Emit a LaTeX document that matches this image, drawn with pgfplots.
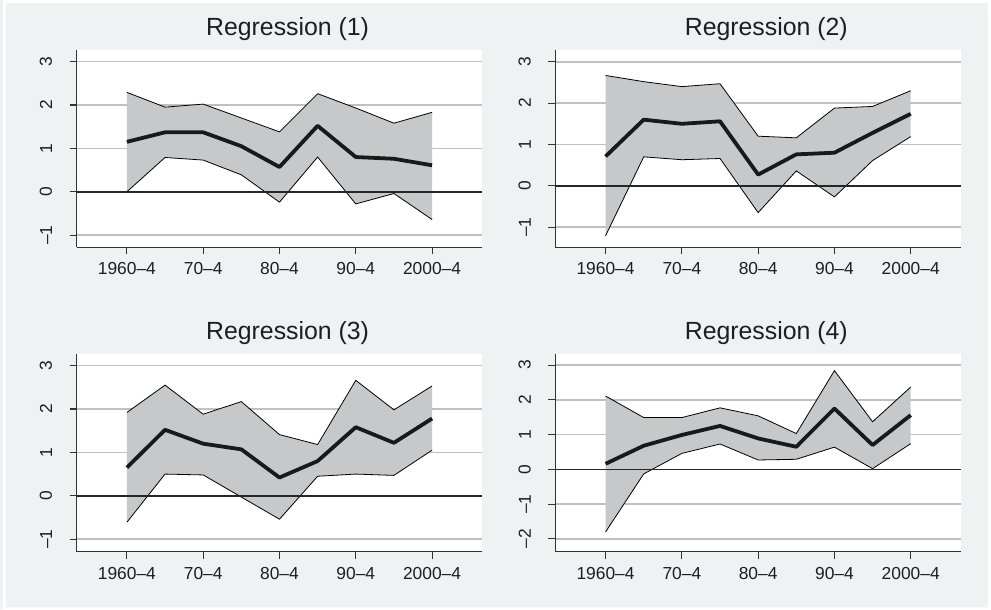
\documentclass[border=0pt]{standalone}
\usepackage{fontspec}
\setmainfont{Liberation Sans}
\usepackage{pgfplots}
\usepackage{pgfplotstable}
\pgfplotsset{compat=1.18}
\usepgfplotslibrary{fillbetween}
\definecolor{bgc}{RGB}{238,242,242}
\definecolor{cifill}{RGB}{199,200,202}
\definecolor{gridc}{RGB}{192,192,196}
\definecolor{axc}{RGB}{50,50,50}
\definecolor{txt}{RGB}{30,30,30}

\pgfplotstableread{
x b lo hi
1960 1.15 0.00 2.29
1965 1.37 0.79 1.95
1970 1.37 0.73 2.02
1975 1.05 0.39 1.70
1980 0.57 -0.24 1.38
1985 1.52 0.80 2.26
1990 0.80 -0.28 1.93
1995 0.76 -0.04 1.58
2000 0.61 -0.64 1.83
}\tA
\pgfplotstableread{
x b lo hi
1960 0.71 -1.21 2.67
1965 1.60 0.70 2.52
1970 1.50 0.63 2.40
1975 1.56 0.66 2.47
1980 0.27 -0.65 1.20
1985 0.76 0.36 1.16
1990 0.80 -0.27 1.88
1995 1.28 0.61 1.92
2000 1.74 1.19 2.30
}\tB
\pgfplotstableread{
x b lo hi
1960 0.65 -0.61 1.92
1965 1.52 0.50 2.55
1970 1.20 0.48 1.88
1975 1.07 -0.03 2.17
1980 0.42 -0.54 1.41
1985 0.80 0.45 1.18
1990 1.58 0.50 2.66
1995 1.22 0.47 1.98
2000 1.78 1.05 2.53
}\tC
\pgfplotstableread{
x b lo hi
1960 0.16 -1.80 2.11
1965 0.68 -0.13 1.49
1970 0.99 0.46 1.49
1975 1.25 0.73 1.77
1980 0.89 0.27 1.54
1985 0.65 0.29 1.03
1990 1.75 0.64 2.84
1995 0.70 0.02 1.37
2000 1.56 0.74 2.37
}\tD

\pgfplotsset{
  panel/.style={
    scale only axis, width=407bp, height=198bp, anchor=south west,
    xmin=1953.4, xmax=2006.6,
    axis x line*=bottom, axis y line*=left,
    axis line style={-, color=axc, line width=1.1bp},
    axis background/.style={fill=white},
    tick align=outside, major tick length=7bp,
    tick style={color=axc, line width=1.1bp},
    xtick={1960,1970,1980,1990,2000},
    xticklabels={1960–4,70–4,80–4,90–4,2000–4},
    ymajorgrids, grid style={color=gridc, line width=1.4bp},
    ticklabel style={font=\fontsize{17.5}{20}\selectfont, color=txt},
    xticklabel style={yshift=-5bp},
    yticklabel style={xshift=-14bp, rotate=90, anchor=south},
    title style={font=\fontsize{25}{28}\selectfont, color=txt, at={(axis description cs:0.52,1)}, anchor=base, yshift=8.5bp},
    clip=false,
  },
}
\newcommand{\panel}[1]{%
  \addplot[draw=none, name path=U] table[x=x,y=hi] {#1};
  \addplot[draw=none, name path=L] table[x=x,y=lo] {#1};
  \addplot[fill=cifill, draw=none] fill between[of=U and L];
  \addplot[black, line width=0.8bp] table[x=x,y=hi] {#1};
  \addplot[black, line width=0.8bp] table[x=x,y=lo] {#1};
  \addplot[black!85, line width=1.6bp] coordinates {(1953.4,0) (2006.6,0)};
  \addplot[black!90, line width=3.8bp, line join=round] table[x=x,y=b] {#1};
}

\begin{document}
\pagecolor{bgc}
\begin{tikzpicture}
\fill[white, even odd rule] (0,0) rectangle (991bp,611bp) (3bp,2bp) rectangle (988bp,608bp);

\begin{axis}[panel, at={(74bp,363bp)}, title={Regression (1)},
  ymin=-1.28, ymax=3.27, ytick={-1,0,1,2,3}, yticklabels={–1,0,1,2,3}]
\panel{\tA}
\end{axis}

\begin{axis}[panel, at={(554bp,363bp)}, title={Regression (2)},
  ymin=-1.49, ymax=3.29, ytick={-1,0,1,2,3}, yticklabels={–1,0,1,2,3}]
\panel{\tB}
\end{axis}

\begin{axis}[panel, at={(74bp,57.7bp)}, title={Regression (3)},
  ymin=-1.29, ymax=3.26, ytick={-1,0,1,2,3}, yticklabels={–1,0,1,2,3}]
\panel{\tC}
\end{axis}

\begin{axis}[panel, at={(554bp,57.7bp)}, title={Regression (4)},
  ymin=-2.37, ymax=3.31, ytick={-2,-1,0,1,2,3}, yticklabels={–2,–1,0,1,2,3}]
\panel{\tD}
\end{axis}
\end{tikzpicture}
\end{document}
